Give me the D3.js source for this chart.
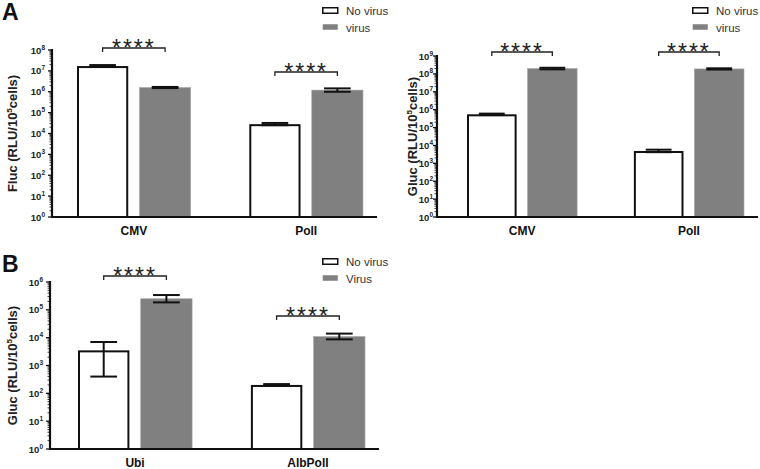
<!DOCTYPE html>
<html>
<head>
<meta charset="utf-8">
<script src="https://cdn.jsdelivr.net/npm/d3@7"></script>
<style>
  body { margin: 0; background: #fff; }
  svg { font-family: "Liberation Sans", Arial, sans-serif; }
</style>
</head>
<body>
<svg id="fig" width="760" height="469"></svg>
<script>
// data (RLU per 10^5 cells)
const seriesA = ['No virus', 'virus']
const seriesB = ['No virus', 'Virus']

const fluc_groups = ['CMV', 'PolI']
const fluc_novirus = [1.7e7, 2.8e4]
const fluc_novirus_err = [[1.55e7, 1.9e7], [2.5e4, 3.2e4]]
const fluc_virus = [1.6e6, 1.2e6]
const fluc_virus_err = [[1.5e6, 1.7e6], [1.0e6, 1.45e6]]

const gluc_groups = ['CMV', 'PolI']
const gluc_novirus = [5.5e5, 4.9e3]
const gluc_novirus_err = [[5.0e5, 6.0e5], [4.2e3, 5.8e3]]
const gluc_virus = [2.0e8, 1.9e8]
const gluc_virus_err = [[1.8e8, 2.2e8], [1.75e8, 2.05e8]]

const b_groups = ['Ubi', 'AlbPolI']
const b_novirus = [3.5e3, 200]
const b_novirus_err = [[4e2, 7e3], [190, 215]]
const b_virus = [2.5e5, 1.1e4]
const b_virus_err = [[1.85e5, 3.4e5], [8.7e3, 1.4e4]]

const stars = ['****', '****']

const GREY = '#808080'
const svg = d3.select('#fig')

function panel(o) {
	const g = svg.append('g')
	const y = d3.scaleLog().domain([1, o.ymax]).range([o.y0, o.y1])
	const x = d3.scaleBand().domain(o.groups).range([o.bx0, o.bx1]).paddingInner(o.gap)
	const xs = d3.scaleBand().domain([0, 1]).range([0, x.bandwidth()]).paddingInner(0.18)

	const rows = o.groups.map((c, i) => [
		{ c, s: 0, v: o.nov[i], e: o.novErr[i] },
		{ c, s: 1, v: o.vir[i], e: o.virErr[i] },
	]).flat()

	// bars
	g.selectAll('rect.bar').data(rows).join('rect')
		.attr('class', 'bar')
		.attr('x', d => x(d.c) + xs(d.s) + (d.s === 0 ? 1 : 0))
		.attr('width', d => xs.bandwidth() - (d.s === 0 ? 2 : 0))
		.attr('y', d => y(d.v) + (d.s === 0 ? 1 : 0))
		.attr('height', d => y(1) - y(d.v) - (d.s === 0 ? 1 : 0))
		.attr('fill', d => d.s === 0 ? '#fff' : GREY)
		.attr('stroke', d => d.s === 0 ? '#111' : '#a8a8a8')
		.attr('stroke-width', d => d.s === 0 ? 2 : 0.6)

	// error bars
	const cx = d => x(d.c) + xs(d.s) + xs.bandwidth() / 2
	const capw = xs.bandwidth() * 0.26
	const eb = g.append('g').attr('stroke', '#111').attr('stroke-width', 2)
	eb.selectAll('line.v').data(rows).join('line')
		.attr('x1', cx).attr('x2', cx)
		.attr('y1', d => y(d.e[0])).attr('y2', d => y(d.e[1]))
	for (const k of [0, 1])
		eb.selectAll('line.c' + k).data(rows).join('line')
			.attr('x1', d => cx(d) - capw).attr('x2', d => cx(d) + capw)
			.attr('y1', d => y(d.e[k])).attr('y2', d => y(d.e[k]))

	// y axis, log with minor ticks
	const ya = g.append('g').attr('transform', `translate(${o.ax},0)`)
	const majors = d3.range(0, Math.log10(o.ymax) + 1).map(p => 10 ** p)
	const minors = []
	majors.slice(0, -1).forEach(m => d3.range(2, 10).forEach(k => minors.push(m * k)))
	ya.append('line').attr('x1', 0).attr('x2', 0).attr('y1', y(o.ymax) - 1).attr('y2', y(1))
		.attr('stroke', '#111').attr('stroke-width', 2.2)
	ya.selectAll('line.mj').data(majors).join('line')
		.attr('x1', -4).attr('x2', 0).attr('y1', d => y(d)).attr('y2', d => y(d))
		.attr('stroke', '#111').attr('stroke-width', 1.3)
	ya.selectAll('line.mn').data(minors).join('line')
		.attr('x1', -2.5).attr('x2', 0).attr('y1', d => y(d)).attr('y2', d => y(d))
		.attr('stroke', '#111').attr('stroke-width', 0.8)
	const tl = ya.selectAll('text.tl').data(majors).join('text')
		.attr('x', -o.tickOff).attr('y', d => y(d) + 3.5)
		.attr('text-anchor', 'end').attr('font-size', 9.5).attr('font-weight', 'bold').attr('fill', '#222')
	tl.append('tspan').text('10')
	tl.append('tspan').attr('dy', -4).attr('font-size', 6.5).text(d => Math.round(Math.log10(d)))

	// x axis
	g.append('line').attr('x1', o.ax - 1).attr('x2', o.axEnd).attr('y1', y(1)).attr('y2', y(1))
		.attr('stroke', '#111').attr('stroke-width', 2)
	g.selectAll('text.xl').data(o.groups).join('text')
		.attr('x', d => x(d) + x.bandwidth() / 2).attr('y', y(1) + 18)
		.attr('text-anchor', 'middle').attr('font-size', 12).attr('font-weight', 'bold').attr('fill', '#111')
		.text(d => d)

	// y title
	const yt = g.append('text')
		.attr('transform', `translate(${o.titleX},${(y(1) + y(o.ymax)) / 2}) rotate(-90)`)
		.attr('text-anchor', 'middle').attr('font-size', 13).attr('font-weight', 'bold').attr('fill', '#222')
	yt.append('tspan').text(o.title + ' (RLU/10')
	yt.append('tspan').attr('dy', -5).attr('font-size', 8).text('5')
	yt.append('tspan').attr('dy', 5).text('cells)')

	// significance brackets
	o.groups.forEach((c, i) => {
		const xa = x(c) + xs(0) + xs.bandwidth() / 2
		const xb = x(c) + xs(1) + xs.bandwidth() / 2
		const by = o.brY[i]
		g.append('path').attr('d', `M${xa},${by + 4}V${by}H${xb}V${by + 4}`)
			.attr('fill', 'none').attr('stroke', '#222').attr('stroke-width', 1.3)
		g.append('text').attr('x', (xa + xb) / 2).attr('y', by + 8)
			.attr('text-anchor', 'middle').attr('font-size', 23)
			.attr('letter-spacing', 2).attr('fill', '#222')
			.text(stars[i])
	})

	// legend
	const lg = g.append('g').attr('transform', `translate(${o.lgX},${o.lgY})`)
	o.series.forEach((s, i) => {
		lg.append('rect').attr('x', 0.75).attr('y', i * 16.5 + 0.75).attr('width', 15).attr('height', 5.5)
			.attr('fill', i === 0 ? '#fff' : GREY)
			.attr('stroke', i === 0 ? '#111' : 'none').attr('stroke-width', 1.5)
		lg.append('text').attr('x', 24).attr('y', i * 16.5 + 8).attr('font-size', 11.5).attr('fill', '#333').text(s)
	})
}

panel({ groups: fluc_groups, series: seriesA, nov: fluc_novirus, novErr: fluc_novirus_err,
	vir: fluc_virus, virErr: fluc_virus_err, ymax: 1e8, y0: 217, y1: 50,
	bx0: 77, bx1: 363, gap: 0.34, ax: 52, axEnd: 377, title: 'Fluc', titleX: 17, tickOff: 7,
	brY: [48, 72], lgX: 322, lgY: 7 })

panel({ groups: gluc_groups, series: seriesA, nov: gluc_novirus, novErr: gluc_novirus_err,
	vir: gluc_virus, virErr: gluc_virus_err, ymax: 1e9, y0: 217, y1: 56,
	bx0: 467, bx1: 744, gap: 0.34, ax: 437, axEnd: 758, title: 'Gluc', titleX: 417, tickOff: 4,
	brY: [52, 52], lgX: 692, lgY: 7 })

panel({ groups: b_groups, series: seriesB, nov: b_novirus, novErr: b_novirus_err,
	vir: b_virus, virErr: b_virus_err, ymax: 1e6, y0: 449, y1: 282,
	bx0: 78, bx1: 365, gap: 0.34, ax: 50, axEnd: 379, title: 'Gluc', titleX: 17, tickOff: 7,
	brY: [276, 316], lgX: 322, lgY: 258 })

// panel letters
svg.append('text').attr('x', 2).attr('y', 20).attr('font-size', 23).attr('font-weight', 'bold').attr('fill', '#111').text('A')
svg.append('text').attr('x', 2).attr('y', 272).attr('font-size', 23).attr('font-weight', 'bold').attr('fill', '#111').text('B')
</script>
</body>
</html>
